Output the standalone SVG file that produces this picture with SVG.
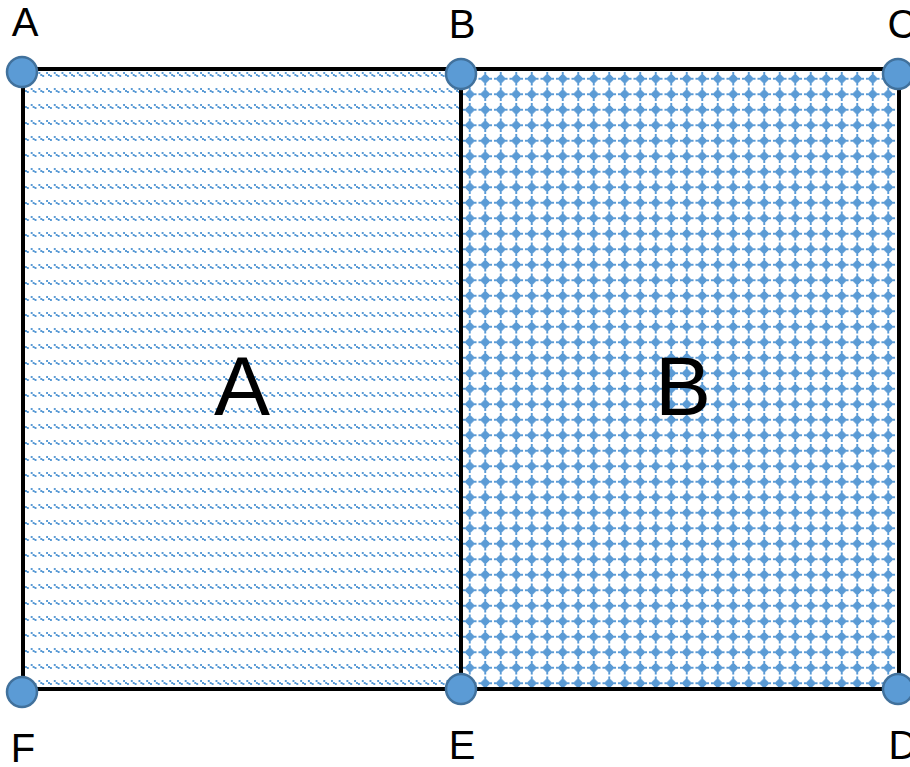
<svg xmlns="http://www.w3.org/2000/svg" width="910" height="767" viewBox="0 0 910 767">
<style>
.lbl{font-family:"Liberation Sans",Arial,sans-serif;font-size:40px;fill:#000;text-anchor:middle}
.big{font-family:"Liberation Sans",Arial,sans-serif;font-size:84px;fill:#000;text-anchor:middle}
.pt{fill:#5B9BD5;stroke:#41719C;stroke-width:2.5}
.edge{fill:none;stroke:#000;stroke-width:4}
</style>
<defs>
<pattern id="pa" patternUnits="userSpaceOnUse" x="23" y="71" width="7.7" height="16">
<g fill="#5B9BD5" shape-rendering="crispEdges">
<rect x="0" y="1" width="2" height="2"/>
<rect x="2" y="2.7" width="2" height="2"/>
<rect x="4" y="4.4" width="2" height="2"/>
</g>
</pattern>
<pattern id="pb" patternUnits="userSpaceOnUse" x="462" y="71" width="15.5" height="15.5">
<g fill="#5B9BD5" shape-rendering="crispEdges">
<path d="M7.75 2 L13.5 7.75 L7.75 13.5 L2 7.75 Z"/>
<rect x="7" y="1" width="1.5" height="1.5"/>
<rect x="7" y="13" width="1.5" height="1.5"/>
<rect x="1" y="7" width="1.5" height="1.5"/>
<rect x="13" y="7" width="1.5" height="1.5"/>
</g>
</pattern>
</defs>
<g id="regionA">
<rect x="23" y="69" width="438" height="620" fill="url(#pa)"/>
<text class="big" x="242" y="415">A</text>
</g>
<g id="regionB">
<rect x="461" y="69" width="438" height="620" fill="url(#pb)"/>
<text class="big" x="683" y="415">B</text>
</g>
<g id="connectors">
<rect class="edge" x="23" y="69" width="876" height="620"/>
<line class="edge" x1="461" y1="69" x2="461" y2="689"/>
</g>
<g id="nodeA"><circle class="pt" cx="22" cy="72" r="15"/><text class="lbl" x="25" y="36">A</text></g>
<g id="nodeB"><circle class="pt" cx="461" cy="74" r="15"/><text class="lbl" x="462" y="38">B</text></g>
<g id="nodeC"><circle class="pt" cx="898" cy="74" r="15"/><text class="lbl" x="902" y="38">C</text></g>
<g id="nodeD"><circle class="pt" cx="898" cy="689" r="15"/><text class="lbl" x="903" y="759">D</text></g>
<g id="nodeE"><circle class="pt" cx="461" cy="689" r="15"/><text class="lbl" x="462" y="759">E</text></g>
<g id="nodeF"><circle class="pt" cx="22" cy="692" r="15"/><text class="lbl" x="23" y="762">F</text></g>
</svg>
